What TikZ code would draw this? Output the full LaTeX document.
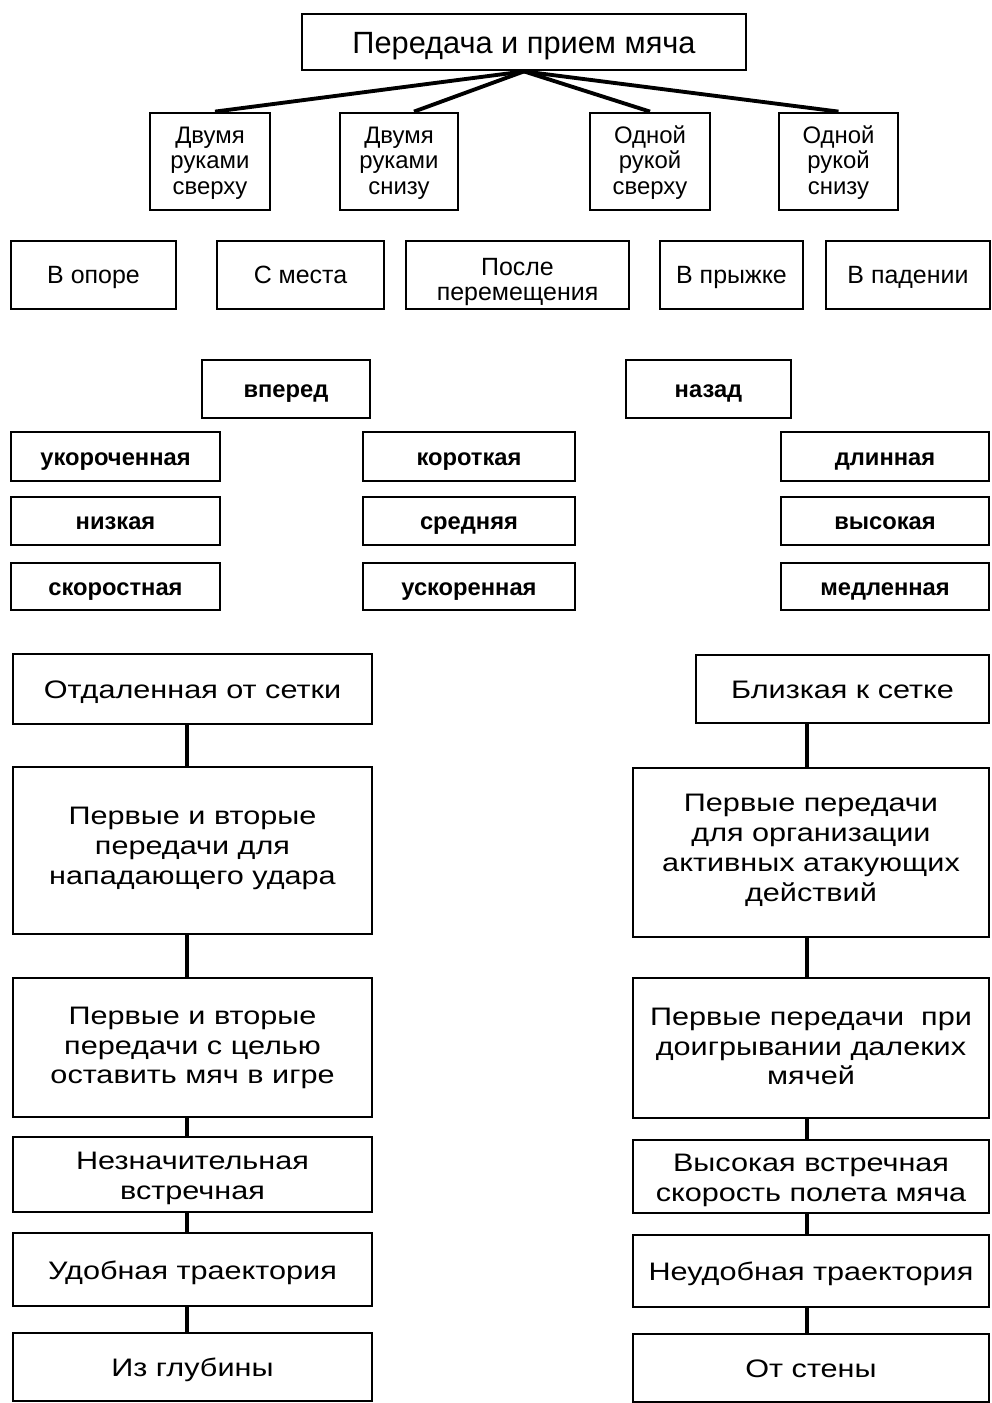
\documentclass[tikz,border=0pt]{standalone}
\usepackage{fontspec}
\setmainfont{Liberation Sans}
\newfontfamily\widesans[FakeStretch=1.21]{Liberation Sans}
\begin{document}
\begin{tikzpicture}[x=0.02cm,y=-0.02cm,
  box/.style={draw,line width=1.6pt,inner sep=0pt,align=center,
    execute at begin node={\rule{0pt}{0.95\baselineskip}},execute at end node=\strut},
  link/.style={line width=2.2pt},
  spine/.style={line width=1.8pt},
  titlefont/.style={font=\fontsize{17.5pt}{20pt}\selectfont},
  handfont/.style={font=\fontsize{13.6pt}{14.5pt}\selectfont,text height=41.7pt},
  placefont/.style={font=\fontsize{14.2pt}{14.7pt}\selectfont},
  dirfont/.style={font=\bfseries\fontsize{13.5pt}{15pt}\selectfont},
  bigfont/.style={font=\widesans\fontsize{14.4pt}{17pt}\selectfont}]
  \useasboundingbox (0,0) rectangle (991,1403);

  % title and ways of handling
  \node[box,titlefont,minimum width=8.88cm,minimum height=1.12cm] (top) at (524,42) {Передача и прием мяча};
  \node[box,handfont,minimum width=2.4cm,minimum height=1.94cm] (hand1) at (210,161.5) {Двумя\\руками\\сверху};
  \node[box,handfont,minimum width=2.36cm,minimum height=1.94cm] (hand2) at (399,161.5) {Двумя\\руками\\снизу};
  \node[box,handfont,minimum width=2.4cm,minimum height=1.94cm] (hand3) at (650,161.5) {Одной\\рукой\\сверху};
  \node[box,handfont,minimum width=2.38cm,minimum height=1.94cm] (hand4) at (838.5,161.5) {Одной\\рукой\\снизу};
  \draw[link] (top.south) -- ([xshift=0.1cm]hand1.north);
  \draw[link] (top.south) -- ([xshift=0.3cm]hand2.north);
  \draw[link] (top.south) -- (hand3.north);
  \draw[link] (top.south) -- (hand4.north);

  \node[box,placefont,minimum width=3.3cm,minimum height=1.36cm] (pos1) at (93.5,275) {В опоре};
  \node[box,placefont,minimum width=3.34cm,minimum height=1.36cm] (pos2) at (300.5,275) {С места};
  \node[box,placefont,minimum width=4.46cm,minimum height=1.36cm,text height=33.9pt] (pos3) at (517.5,275) {После\\перемещения};
  \node[box,placefont,minimum width=2.86cm,minimum height=1.36cm] (pos4) at (731.5,275) {В прыжке};
  \node[box,placefont,minimum width=3.28cm,minimum height=1.36cm] (pos5) at (908,275) {В падении};

  % directions and kinds
  \node[box,dirfont,minimum width=3.36cm,minimum height=1.16cm] (fwd) at (286,389) {вперед};
  \node[box,dirfont,minimum width=3.3cm,minimum height=1.16cm] (back) at (708.5,389) {назад};

  \node[box,dirfont,minimum width=4.18cm,minimum height=0.98cm] (kindA1) at (115.5,456.5) {укороченная};
  \node[box,dirfont,minimum width=4.18cm,minimum height=0.96cm] (kindA2) at (115.5,521) {низкая};
  \node[box,dirfont,minimum width=4.18cm,minimum height=0.94cm] (kindA3) at (115.5,586.5) {скоростная};
  \node[box,dirfont,minimum width=4.24cm,minimum height=0.98cm] (kindB1) at (469,456.5) {короткая};
  \node[box,dirfont,minimum width=4.24cm,minimum height=0.96cm] (kindB2) at (469,521) {средняя};
  \node[box,dirfont,minimum width=4.24cm,minimum height=0.94cm] (kindB3) at (469,586.5) {ускоренная};
  \node[box,dirfont,minimum width=4.16cm,minimum height=0.98cm] (kindC1) at (885,456.5) {длинная};
  \node[box,dirfont,minimum width=4.16cm,minimum height=0.96cm] (kindC2) at (885,521) {высокая};
  \node[box,dirfont,minimum width=4.16cm,minimum height=0.94cm] (kindC3) at (885,586.5) {медленная};

  % far from the net
  \coordinate (spineL) at (187,0);
  \node[box,bigfont,minimum width=7.18cm,minimum height=1.4cm] (far1) at (192.5,689) {Отдаленная от сетки};
  \node[box,bigfont,minimum width=7.18cm,minimum height=3.34cm] (far2) at (192.5,850.5) {Первые и вторые\\передачи для\\нападающего удара};
  \node[box,bigfont,minimum width=7.18cm,minimum height=2.78cm,text height=46.6pt] (far3) at (192.5,1047.5) {Первые и вторые\\передачи с целью\\оставить мяч в игре};
  \node[box,bigfont,minimum width=7.18cm,minimum height=1.5cm,text height=33.5pt] (far4) at (192.5,1174.5) {Незначительная\\встречная};
  \node[box,bigfont,minimum width=7.18cm,minimum height=1.46cm] (far5) at (192.5,1269.5) {Удобная траектория};
  \node[box,bigfont,minimum width=7.18cm,minimum height=1.36cm] (far6) at (192.5,1367) {Из глубины};
  \draw[spine] (far1.south -| spineL) -- (far2.north -| spineL);
  \draw[spine] (far2.south -| spineL) -- (far3.north -| spineL);
  \draw[spine] (far3.south -| spineL) -- (far4.north -| spineL);
  \draw[spine] (far4.south -| spineL) -- (far5.north -| spineL);
  \draw[spine] (far5.south -| spineL) -- (far6.north -| spineL);

  % close to the net
  \coordinate (spineR) at (807,0);
  \node[box,bigfont,minimum width=5.86cm,minimum height=1.36cm] (near1) at (842.5,689) {Близкая к сетке};
  \node[box,bigfont,minimum width=7.12cm,minimum height=3.38cm] (near2) at (811,852.5) {Первые передачи\\для организации\\активных атакующих\\действий};
  \node[box,bigfont,minimum width=7.12cm,minimum height=2.8cm,text height=47.1pt] (near3) at (811,1048) {Первые передачи\ \ при\\доигрывании далеких\\мячей};
  \node[box,bigfont,minimum width=7.12cm,minimum height=1.46cm,text height=33.5pt] (near4) at (811,1176.5) {Высокая встречная\\скорость полета мяча};
  \node[box,bigfont,minimum width=7.12cm,minimum height=1.44cm] (near5) at (811,1271) {Неудобная траектория};
  \node[box,bigfont,minimum width=7.12cm,minimum height=1.36cm] (near6) at (811,1368) {От стены};
  \draw[spine] (near1.south -| spineR) -- (near2.north -| spineR);
  \draw[spine] (near2.south -| spineR) -- (near3.north -| spineR);
  \draw[spine] (near3.south -| spineR) -- (near4.north -| spineR);
  \draw[spine] (near4.south -| spineR) -- (near5.north -| spineR);
  \draw[spine] (near5.south -| spineR) -- (near6.north -| spineR);
\end{tikzpicture}
\end{document}
